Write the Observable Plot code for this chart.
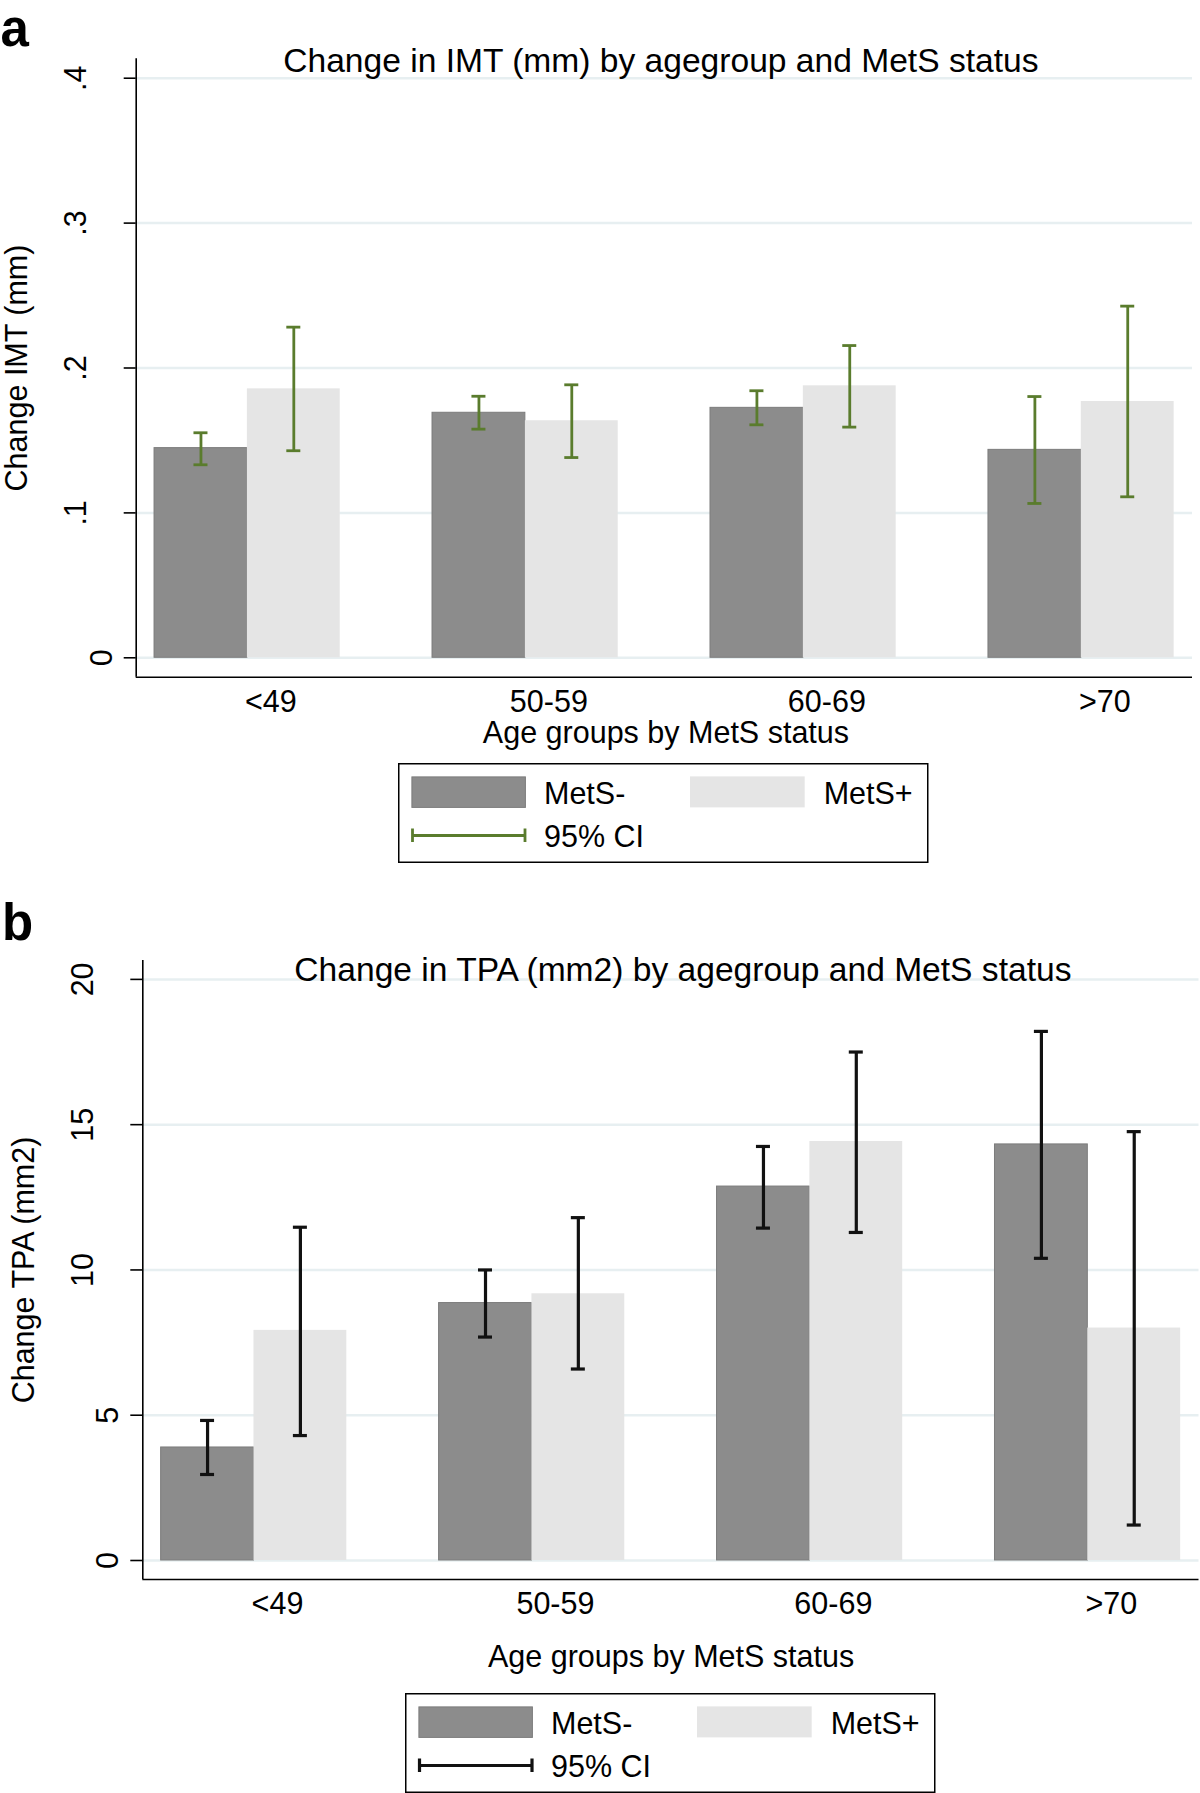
<!DOCTYPE html>
<html>
<head>
<meta charset="utf-8">
<script src="https://cdn.jsdelivr.net/npm/d3@7"></script>
<script src="https://cdn.jsdelivr.net/npm/@observablehq/plot@0.6"></script>
<style>
html, body { margin: 0; padding: 0; background: #fff; }
#page { position: relative; width: 1200px; height: 1793px; overflow: hidden; background: #fff;
        font-family: "Liberation Sans", Arial, Helvetica, sans-serif; }
#page > * { position: absolute; }
</style>
</head>
<body>
<div id="page"></div>
<script>
// ---------------- data ----------------
const ageGroups = ["<49", "50-59", "60-69", ">70"];
const statuses = ["MetS-", "MetS+"];

// Panel a: change in IMT (mm)
const imtMeanNeg = [0.1447, 0.1691, 0.1725, 0.1435];
const imtMeanPos = [0.1856, 0.1636, 0.1877, 0.1769];
const imtLoNeg   = [0.1332, 0.1578, 0.1608, 0.1065];
const imtHiNeg   = [0.1553, 0.1805, 0.1843, 0.1803];
const imtLoPos   = [0.1429, 0.1382, 0.1592, 0.1111];
const imtHiPos   = [0.2282, 0.1884, 0.2155, 0.2427];
const imtTicks   = [0, 0.1, 0.2, 0.3, 0.4];

// Panel b: change in TPA (mm2)
const tpaMeanNeg = [3.89, 8.86, 12.87, 14.32];
const tpaMeanPos = [7.92, 9.18, 14.42, 8.00];
const tpaLoNeg   = [2.96, 7.69, 11.44, 10.40];
const tpaHiNeg   = [4.82, 10.00, 14.25, 18.21];
const tpaLoPos   = [4.30, 6.59, 11.29, 1.22];
const tpaHiPos   = [11.47, 11.80, 17.50, 14.76];
const tpaTicks   = [0, 5, 10, 15, 20];

const ciLabel = "95% CI";
const xTitle = "Age groups by MetS status";

// ---------------- drawing ----------------
const FONT = '"Liberation Sans", Arial, Helvetica, sans-serif';
const page = document.getElementById("page");

function buildRows(meanNeg, meanPos, loNeg, hiNeg, loPos, hiPos) {
  const rows = [];
  ageGroups.forEach((g, i) => {
    rows.push({group: g, gi: i, status: statuses[0], value: meanNeg[i], lo: loNeg[i], hi: hiNeg[i]});
    rows.push({group: g, gi: i, status: statuses[1], value: meanPos[i], lo: loPos[i], hi: hiPos[i]});
  });
  return rows;
}

function drawPanel(cfg) {
  const rows = buildRows(...cfg.series);
  const half = 0.334;      // half of a group's width (x units)
  const cap = 0.0252;      // half width of CI caps
  const isNeg = d => d.status === statuses[0];
  const x1 = d => d.gi + (isNeg(d) ? -half : 0);
  const x2 = d => d.gi + (isNeg(d) ? 0 : half);
  const xc = d => d.gi + (isNeg(d) ? -half / 2 : half / 2);
  const xDomain = [-0.4, 3.4];
  const shortTicks = cfg.ticks.filter(t => cfg.tickFormat(t).length === 1);
  const longTicks = cfg.ticks.filter(t => cfg.tickFormat(t).length > 1);
  const yAxisOpts = {tickFormat: cfg.tickFormat, tickSize: 12, tickRotate: -90, textAnchor: "middle",
                     lineAnchor: "bottom", fontSize: 30.5, stroke: "#000", strokeWidth: 1.6, label: null};

  const plot = Plot.plot({
    width: 1200,
    height: cfg.height,
    marginTop: cfg.marginTop,
    marginBottom: cfg.marginBottom,
    marginLeft: cfg.marginLeft,
    marginRight: cfg.marginRight,
    x: {domain: xDomain},
    y: {domain: cfg.yDomain},
    style: {fontFamily: FONT, color: "#000", background: "transparent", overflow: "visible"},
    marks: [
      Plot.ruleY(cfg.ticks, {stroke: "#e7eff1", strokeWidth: 2.5}),
      Plot.rect(rows.filter(isNeg), {x1, x2, y1: () => 0, y2: "value", fill: "#8c8c8c", stroke: "#7c7c7c", strokeWidth: 1}),
      Plot.rect(rows.filter(d => !isNeg(d)), {x1, x2, y1: () => 0, y2: "value", fill: "#e5e5e5"}),
      Plot.ruleX(rows, {x: xc, y1: "lo", y2: "hi", stroke: cfg.ciColor, strokeWidth: cfg.ciWidth}),
      Plot.ruleY(rows, {y: "hi", x1: d => xc(d) - cap, x2: d => xc(d) + cap, stroke: cfg.ciColor, strokeWidth: cfg.ciWidth}),
      Plot.ruleY(rows, {y: "lo", x1: d => xc(d) - cap, x2: d => xc(d) + cap, stroke: cfg.ciColor, strokeWidth: cfg.ciWidth}),
      Plot.ruleX([xDomain[0]], {stroke: "#000", strokeWidth: 1.6}),
      Plot.ruleY([cfg.yDomain[0]], {stroke: "#000", strokeWidth: 1.6}),
      Plot.axisY({...yAxisOpts, ticks: longTicks, tickPadding: 38}),
      Plot.axisY({...yAxisOpts, ticks: shortTicks, tickPadding: 12.5}),
      Plot.axisX({ticks: [0, 1, 2, 3], tickFormat: i => ageGroups[i], tickSize: 0, tickPadding: 13,
                  dx: 23.5, fontSize: 30.5, label: null}),
      Plot.text([cfg.title], {text: d => d, frameAnchor: "top", dx: cfg.titleDx, dy: cfg.titleDy,
                  lineAnchor: "bottom", fontSize: 33.6}),
      Plot.text([cfg.yTitle], {text: d => d, frameAnchor: "left", rotate: -90, dx: -118.5,
                  textAnchor: "middle", lineAnchor: "middle", fontSize: 30.5}),
      Plot.text([xTitle], {text: d => d, frameAnchor: "bottom", dx: cfg.xTitleDx, dy: cfg.xTitleDy,
                  lineAnchor: "bottom", fontSize: 30.5}),
      Plot.text([cfg.letter], {text: d => d, frameAnchor: "top-left", dx: cfg.letterDx, dy: cfg.letterDy,
                  textAnchor: "start", lineAnchor: "bottom", fontSize: 51, fontWeight: "bold"})
    ]
  });
  plot.style.left = "0px";
  plot.style.top = cfg.top + "px";
  page.appendChild(plot);

  // legend box
  const W = 530.5, H = 100;
  const svg = d3.create("svg")
    .attr("width", W).attr("height", H)
    .style("left", cfg.legendLeft + "px").style("top", cfg.legendTop + "px")
    .style("font-family", FONT).style("overflow", "visible");
  svg.append("rect").attr("x", 0.75).attr("y", 0.75).attr("width", W - 1.5).attr("height", H - 1.5)
    .attr("fill", "#fff").attr("stroke", "#000").attr("stroke-width", 1.5);
  svg.append("rect").attr("x", 13.9).attr("y", 13.9).attr("width", 113.5).attr("height", 30.5)
    .attr("fill", "#8c8c8c").attr("stroke", "#7c7c7c").attr("stroke-width", 1);
  svg.append("rect").attr("x", 292).attr("y", 13.4).attr("width", 114.7).attr("height", 31)
    .attr("fill", "#e5e5e5");
  const txt = (x, y, s) => svg.append("text").attr("x", x).attr("y", y).attr("font-size", 30.5).attr("fill", "#000").text(s);
  txt(146, 41, statuses[0]);
  txt(425.7, 41, statuses[1]);
  txt(146, 84, ciLabel);
  const g = svg.append("g").attr("stroke", cfg.ciColor).attr("stroke-width", cfg.ciWidth);
  g.append("line").attr("x1", 14.5).attr("x2", 127).attr("y1", 72.5).attr("y2", 72.5);
  g.append("line").attr("x1", 14.5).attr("x2", 14.5).attr("y1", 65.5).attr("y2", 79);
  g.append("line").attr("x1", 127).attr("x2", 127).attr("y1", 65.5).attr("y2", 79);
  page.appendChild(svg.node());
}

drawPanel({
  series: [imtMeanNeg, imtMeanPos, imtLoNeg, imtHiNeg, imtLoPos, imtHiPos],
  ticks: imtTicks,
  tickFormat: d => d === 0 ? "0" : d3.format(".1f")(d).replace(/^0/, ""),
  yDomain: [-0.0134, 0.4134],
  top: 0, height: 760, marginTop: 58.3, marginBottom: 83.3, marginLeft: 135.7, marginRight: 8,
  title: "Change in IMT (mm) by agegroup and MetS status", titleDx: -3.5, titleDy: 12.7,
  yTitle: "Change IMT (mm)",
  xTitleDx: 1.6, xTitleDy: 65.3,
  letter: "a", letterDx: -135.7, letterDy: -13.3,
  ciColor: "#5a7c2d", ciWidth: 2.8,
  legendLeft: 398.3, legendTop: 763.3
});

drawPanel({
  series: [tpaMeanNeg, tpaMeanPos, tpaLoNeg, tpaHiNeg, tpaLoPos, tpaHiPos],
  ticks: tpaTicks,
  tickFormat: d3.format("d"),
  yDomain: [-0.654, 20.65],
  top: 880, height: 800, marginTop: 80, marginBottom: 101, marginLeft: 142.3, marginRight: 1.5,
  title: "Change in TPA (mm2) by agegroup and MetS status", titleDx: 12, titleDy: 20,
  yTitle: "Change TPA (mm2)",
  xTitleDx: 0.2, xTitleDy: 87,
  letter: "b", letterDx: -140.8, letterDy: -21,
  ciColor: "#111111", ciWidth: 3.2,
  legendLeft: 405, legendTop: 1693.3
});
</script>
</body>
</html>
